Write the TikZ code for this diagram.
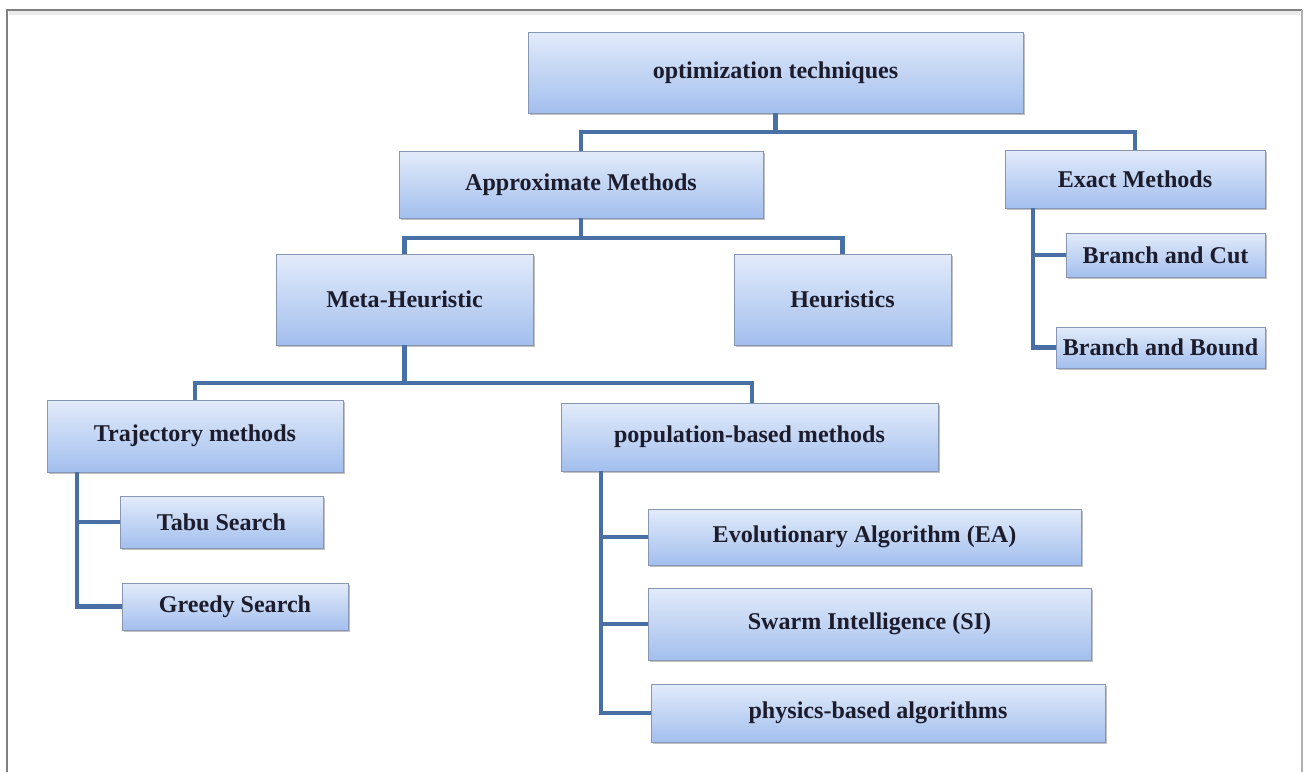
\documentclass[tikz,border=0pt]{standalone}
\usepackage{fontspec}
\setmainfont{Liberation Serif}
\usetikzlibrary{shadows,calc}
\definecolor{boxtop}{RGB}{226,235,250}
\definecolor{boxbot}{RGB}{163,191,238}
\definecolor{boxedge}{RGB}{135,150,178}
\definecolor{linkblue}{RGB}{72,112,165}
\definecolor{labelink}{RGB}{28,28,45}
\tikzset{
  box/.style={draw=boxedge, line width=0.5pt, rectangle,
    top color=boxtop, bottom color=boxbot,
    drop shadow={shadow xshift=1.4pt, shadow yshift=-1.4pt, opacity=0.4, fill=black!60},
    text=labelink, font=\fontsize{13.7}{16}\selectfont\bfseries,
    inner sep=0pt, anchor=center},
  link/.style={draw=linkblue, line width=2.3pt, line join=miter},
}
\begin{document}
\begin{tikzpicture}[x=0.02cm, y=-0.02cm]
\useasboundingbox (0,0) rectangle (1306,772);
\fill[white] (0,0) rectangle (1306,772);

% outer frame
\draw[black!8, line width=2pt] (9,13) -- (1300,13);
\draw[black!50, line width=1.1pt] (7,772) -- (7,10) -- (1302,10);
\draw[black!30, line width=1.1pt] (1302,10) -- (1302,772);

% boxes
\node[box, minimum width=495*0.02cm, minimum height=81*0.02cm] (opt) at (775.5,72.5) {optimization techniques};
\node[box, minimum width=364*0.02cm, minimum height=67*0.02cm] (approx) at (581,184.5) {Approximate Methods};
\node[box, minimum width=260*0.02cm, minimum height=58*0.02cm] (exact) at (1135,179) {Exact Methods};
\node[box, minimum width=257*0.02cm, minimum height=91*0.02cm] (meta) at (404.5,299.5) {Meta-Heuristic};
\node[box, minimum width=217*0.02cm, minimum height=91*0.02cm] (heur) at (842.5,299.5) {Heuristics};
\node[box, minimum width=199*0.02cm, minimum height=44*0.02cm] (bcut) at (1165.5,255) {Branch and Cut};
\node[box, minimum width=209*0.02cm, minimum height=41*0.02cm] (bbound) at (1160.5,347.5) {Branch and Bound};
\node[box, minimum width=296*0.02cm, minimum height=72*0.02cm] (traj) at (195,436) {Trajectory methods};
\node[box, minimum width=377*0.02cm, minimum height=68*0.02cm] (pop) at (749.5,437) {population-based methods};
\node[box, minimum width=203*0.02cm, minimum height=52*0.02cm] (tabu) at (221.5,522) {Tabu Search};
\node[box, minimum width=226*0.02cm, minimum height=47*0.02cm] (greedy) at (235,606.5) {Greedy Search};
\node[box, minimum width=433*0.02cm, minimum height=56*0.02cm] (ea) at (864.5,537) {Evolutionary Algorithm (EA)};
\node[box, minimum width=443*0.02cm, minimum height=72*0.02cm] (si) at (869.5,624) {Swarm Intelligence (SI)};
\node[box, minimum width=454*0.02cm, minimum height=58*0.02cm] (phys) at (878,713) {physics-based algorithms};

% rails for the side branches
\coordinate (trajrail) at (77,472);
\coordinate (poprail) at (601,471);
\coordinate (exactrail) at (1033,208);

% tree connectors
\draw[link] (opt.south) -- ++(0,19) -| (approx.north);
\draw[link] (opt.south) -- ++(0,19) -| (exact.north);
\draw[link] (approx.south) -- ++(0,20) -| (meta.north);
\draw[link] (approx.south) -- ++(0,20) -| (heur.north);
\draw[link] (meta.south) -- ++(0,38) -| (traj.north);
\draw[link] (meta.south) -- ++(0,38) -| ([xshift=2.5*0.02cm]pop.north);

\draw[link] (trajrail) |- (tabu.west);
\draw[link] (trajrail) |- (greedy.west);
\draw[link] (poprail) |- (ea.west);
\draw[link] (poprail) |- (si.west);
\draw[link] (poprail) |- (phys.west);
\draw[link] (exactrail) |- (bcut.west);
\draw[link] (exactrail) |- (bbound.west);
\end{tikzpicture}
\end{document}
